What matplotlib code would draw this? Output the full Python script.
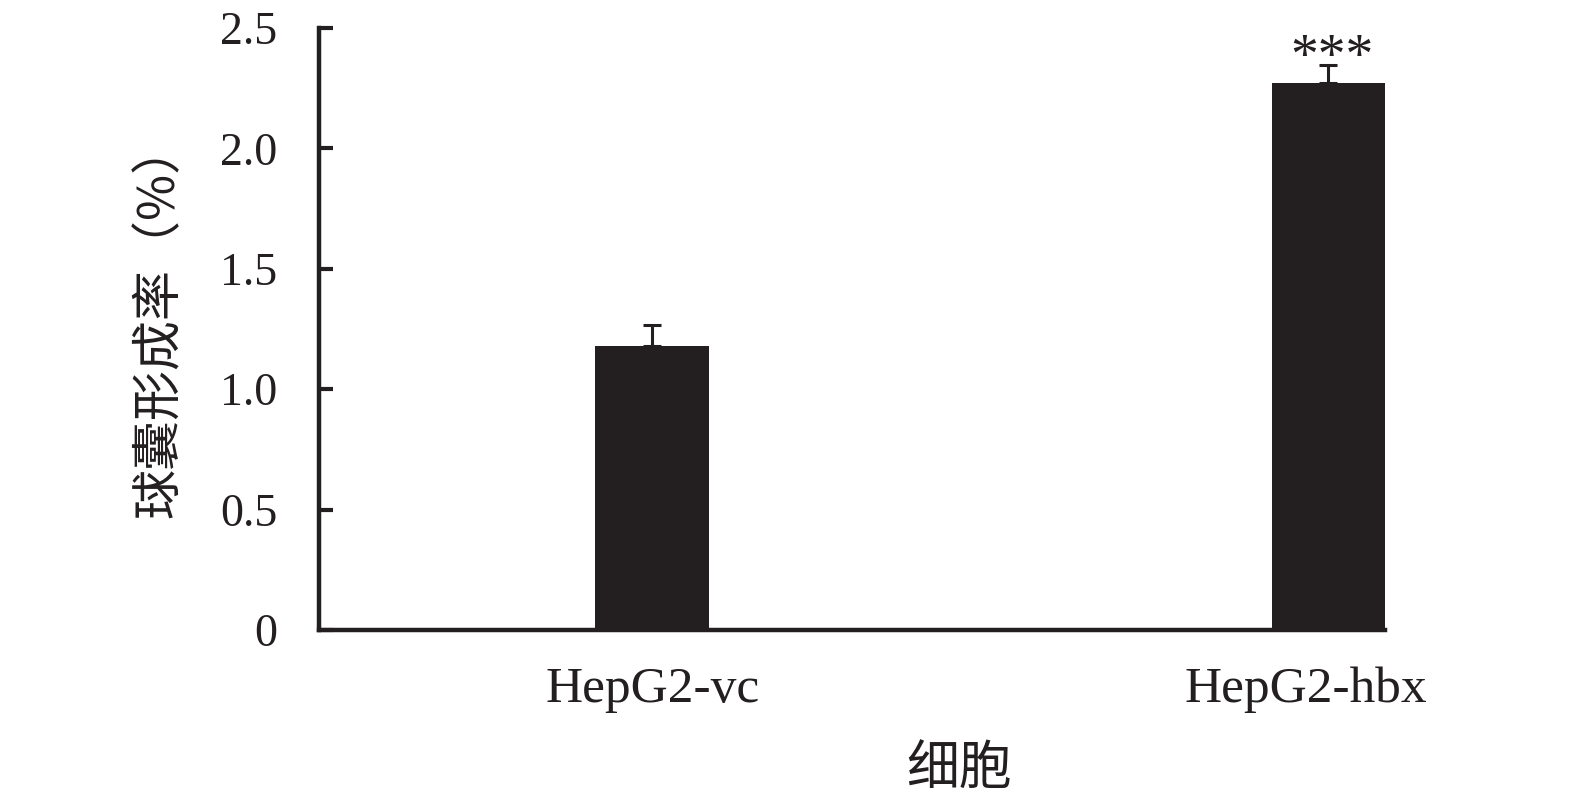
import matplotlib
matplotlib.use("Agg")
import matplotlib.pyplot as plt

# Datos
grupos = ["HepG2-vc", "HepG2-hbx"]
valores = [1.18, 2.27]
errores = [0.085, 0.075]
signif = ["", "***"]
yticks = [0, 0.5, 1.0, 1.5, 2.0, 2.5]
ytick_labels = ["0", "0.5", "1.0", "1.5", "2.0", "2.5"]

SERIF = ["Liberation Serif", "DejaVu Serif"]
CJK = ["Noto Sans CJK SC", "DejaVu Sans"]
NEGRO = "#231f20"

fig = plt.figure(figsize=(15.75, 8.01), dpi=100)
ax = fig.add_axes([0.2025, 0.2135, 0.677, 0.7515])

pos = list(range(len(grupos)))
ancho = 0.168
ax.bar(pos, valores, width=ancho, color=NEGRO, zorder=2)
ax.errorbar(pos, valores, yerr=[[0] * len(errores), errores], fmt="none",
            ecolor=NEGRO, elinewidth=2.2, capsize=6.5, capthick=2.2, zorder=1)

for x, v, e, s in zip(pos, valores, errores, signif):
    if s:
        ax.text(x + 0.005, v + e - 0.08, s, ha="center", va="bottom",
                fontsize=40, family=SERIF, color=NEGRO)

ax.set_xlim(-0.493, 1 + ancho / 2)
ax.set_ylim(0, 2.5)
ax.set_yticks(yticks)
ax.set_yticklabels(ytick_labels, family=SERIF, fontsize=33)
# etiquetas del eje x ligeramente desplazadas como en el original
ax.set_xticks([0, 0.966])
ax.set_xticklabels(grupos, family=SERIF, fontsize=37)
ax.tick_params(axis="y", direction="in", length=10, width=3, pad=30, colors=NEGRO)
ax.tick_params(axis="x", length=0, pad=26, colors=NEGRO)

for lado in ["top", "right"]:
    ax.spines[lado].set_visible(False)
for lado in ["left", "bottom"]:
    ax.spines[lado].set_linewidth(3.2)
    ax.spines[lado].set_color(NEGRO)

ax.set_ylabel("球囊形成率（%）", family=CJK, fontsize=36, color=NEGRO)
ax.yaxis.set_label_coords(-0.125, 0.515)
ax.set_xlabel("细胞", family=CJK, fontsize=38, color=NEGRO)
ax.xaxis.set_label_coords(0.6, -0.186)

fig.savefig("out.png", dpi=100)
